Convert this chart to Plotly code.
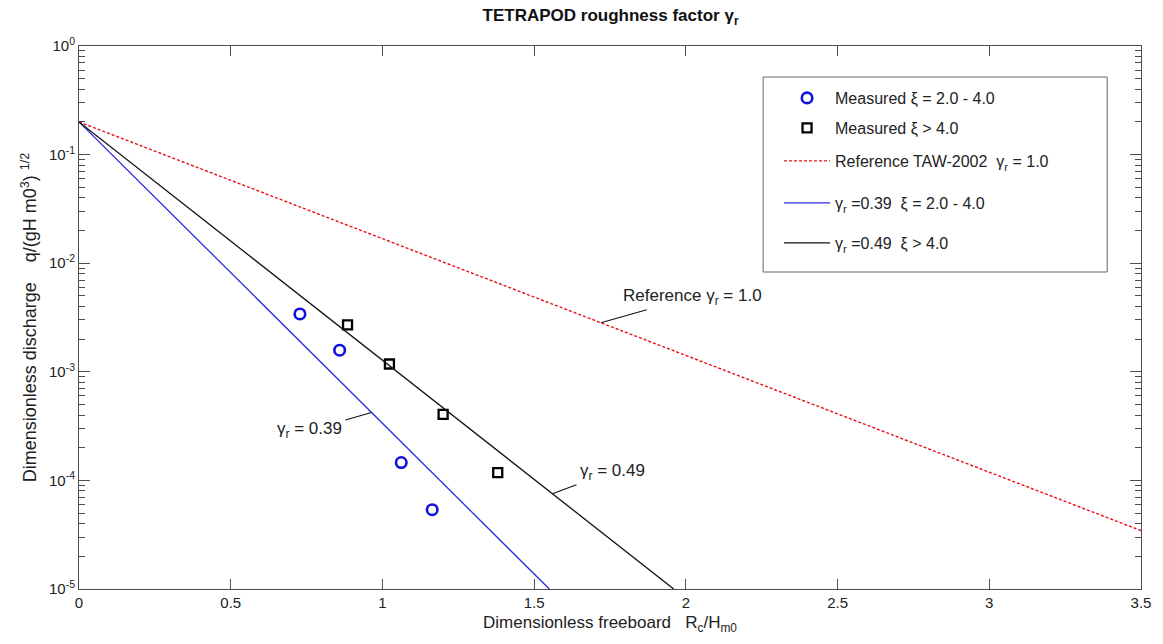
import numpy as np
import plotly.graph_objects as go

# ---- data ----
meas_low_x = [0.728, 0.859, 1.062, 1.164]
meas_low_q = [3.41e-3, 1.58e-3, 1.46e-4, 5.37e-5]
meas_high_x = [0.885, 1.023, 1.200, 1.380]
meas_high_q = [2.70e-3, 1.18e-3, 4.06e-4, 1.18e-4]

ref_x = [0.0, 3.5]
ref_q = [0.2, 3.45e-5]
g039_x = [0.0, 1.55]
g039_q = [0.2, 1.0e-5]
g049_x = [0.0, 1.96]
g049_q = [0.2, 1.0e-5]

x_tickvals = [0, 0.5, 1, 1.5, 2, 2.5, 3, 3.5]
x_ticktext = ["0", "0.5", "1", "1.5", "2", "2.5", "3", "3.5"]
y_tickvals = [1e-5, 1e-4, 1e-3, 1e-2, 1e-1, 1e0]
y_ticktext = ["10<sup>-5</sup>", "10<sup>-4</sup>", "10<sup>-3</sup>",
              "10<sup>-2</sup>", "10<sup>-1</sup>", "10<sup>0</sup>"]

FONT = "Arial, Liberation Sans, sans-serif"
AXC = "#4d4d4d"
TXT = "#222222"

W, H = 1163, 644
ML, MR, MT, MB = 79, 16, 46, 55
PH = H - MT - MB
PW = W - ML - MR

fig = go.Figure()
fig.add_trace(go.Scatter(
    x=meas_low_x, y=meas_low_q, mode="markers",
    name="Measured ξ = 2.0 - 4.0", legend="legend",
    marker=dict(symbol="circle-open", size=10.5, color="#1010e0", line=dict(width=2.6))))
fig.add_trace(go.Scatter(
    x=meas_high_x, y=meas_high_q, mode="markers",
    name="Measured ξ > 4.0", legend="legend2",
    marker=dict(symbol="square-open", size=9, color="#000000", line=dict(width=2.3))))
fig.add_trace(go.Scatter(
    x=ref_x, y=ref_q, mode="lines",
    name="Reference TAW-2002  γ<sub>r</sub> = 1.0", legend="legend3",
    line=dict(color="#e8101a", width=1.4, dash="3px,2px")))
fig.add_trace(go.Scatter(
    x=g039_x, y=g039_q, mode="lines",
    name="γ<sub>r</sub> =0.39  ξ = 2.0 - 4.0", legend="legend4",
    line=dict(color="#2a2ae0", width=1.3)))
fig.add_trace(go.Scatter(
    x=g049_x, y=g049_q, mode="lines",
    name="γ<sub>r</sub> =0.49  ξ > 4.0", legend="legend5",
    line=dict(color="#111111", width=1.3)))


def on_line(xs, qs, x):
    return float(np.interp(x, xs, np.log10(qs)))


ann = [
    dict(x=1.72, y=on_line(ref_x, ref_q, 1.72), text="Reference γ<sub>r</sub> = 1.0",
         ax=92, ay=-26),
    dict(x=0.964, y=on_line(g039_x, g039_q, 0.964), text="γ<sub>r</sub> = 0.39",
         ax=-62, ay=18),
    dict(x=1.56, y=on_line(g049_x, g049_q, 1.56), text="γ<sub>r</sub> = 0.49",
         ax=60, ay=-22),
]
for a in ann:
    fig.add_annotation(x=a["x"], y=a["y"], xref="x", yref="y", text=a["text"],
                       showarrow=True, arrowhead=0, arrowwidth=1.1, arrowcolor="#111111",
                       ax=a["ax"], ay=a["ay"], standoff=0, startstandoff=2,
                       font=dict(family=FONT, size=17, color=TXT))

# legend frame
fig.add_shape(type="rect", xref="paper", yref="paper",
              x0=(767 - ML) / PW, x1=(1113 - ML) / PW,
              y0=(H - MB - 272) / PH, y1=(H - MB - 77) / PH,
              line=dict(color="#666666", width=1), fillcolor="rgba(0,0,0,0)", layer="above")

legend_rows = [98, 128, 161, 203, 243]
leg_common = dict(x=(783 - ML) / PW, xanchor="left", yanchor="middle",
                  bgcolor="rgba(0,0,0,0)", borderwidth=0, itemwidth=46,
                  font=dict(family=FONT, size=16, color=TXT))
legends = {}
for i, row in enumerate(legend_rows):
    key = "legend" if i == 0 else f"legend{i + 1}"
    legends[key] = dict(leg_common, y=(H - MB - row) / PH)

fig.update_layout(
    width=W, height=H, autosize=False,
    margin=dict(l=ML, r=MR, t=MT, b=MB),
    paper_bgcolor="white", plot_bgcolor="white",
    font=dict(family=FONT, size=15, color=TXT),
    title=dict(text="<b>TETRAPOD roughness factor γ<sub>r</sub></b>",
               x=0.525, xanchor="center", y=1 - 15 / H, yanchor="middle",
               font=dict(family=FONT, size=17, color="#111111")),
    showlegend=True,
    **legends,
    xaxis=dict(range=[0, 3.5], tickvals=x_tickvals, ticktext=x_ticktext,
               ticks="inside", ticklen=10, tickcolor=AXC, tickwidth=1,
               showline=True, linecolor=AXC, linewidth=1, mirror="ticks",
               showgrid=False, zeroline=False,
               title=dict(text="Dimensionless freeboard   R<sub>c</sub>/H<sub>m0</sub>",
                          standoff=6, font=dict(family=FONT, size=17, color=TXT))),
    yaxis=dict(type="log", range=[-5, 0], tickvals=y_tickvals, ticktext=y_ticktext,
               ticks="inside", ticklen=11, tickcolor=AXC, tickwidth=1,
               showline=True, linecolor=AXC, linewidth=1, mirror="ticks",
               showgrid=False, zeroline=False,
               minor=dict(ticks="inside", ticklen=6, tickcolor=AXC, dtick="D1", showgrid=False),
               title=dict(text="Dimensionless discharge    q/(gH m0<sup>3</sup>) <sup>1/2</sup>",
                          standoff=7, font=dict(family=FONT, size=18, color=TXT))),
)

fig.write_html("out.html")
